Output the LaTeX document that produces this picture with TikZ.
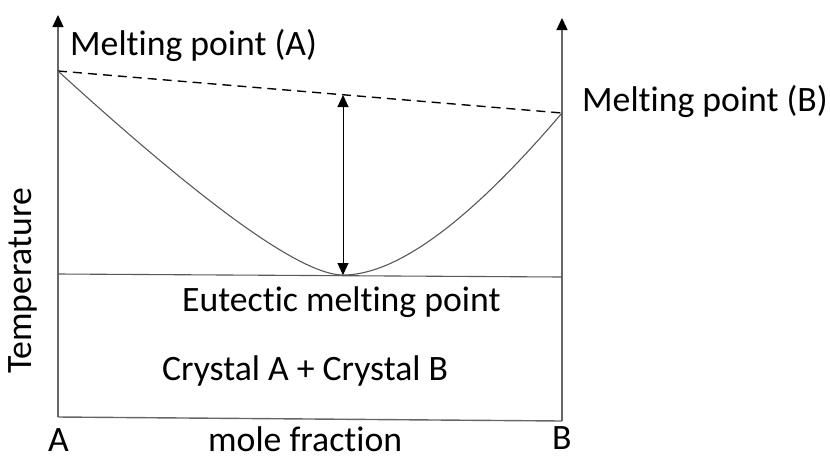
\documentclass[tikz,border=0pt]{standalone}
\usepackage{fontspec}
\setmainfont[Ligatures=NoCommon]{Carlito}
\usetikzlibrary{arrows.meta}
\begin{document}
\begin{tikzpicture}[x=1pt,y=-1pt,
  axisline/.style={draw=black!60,line width=1.4pt},
  curveline/.style={draw=black!65,line width=1.1pt},
  tip/.style={-{Triangle[length=12pt,width=11pt,color=black]}},
  lbl/.style={font=\fontsize{35.7}{40}\selectfont,inner sep=0pt,anchor=base west}]
\useasboundingbox (0,0) rectangle (830,459);
% key points
\coordinate (O) at (58,417);
\coordinate (BR) at (562,421);
\coordinate (Ltop) at (58,15);
\coordinate (Rtop) at (562,18);
\coordinate (MA) at (58,71);
\coordinate (MB) at (562,113);
\coordinate (EL) at (58,274);
\coordinate (ER) at (562,277);
\coordinate (Emin) at (343,275);
\coordinate (Dtop) at (343,95);
% axes
\draw[axisline,tip] (O) -- (Ltop);
\draw[axisline,tip] (BR) -- (Rtop);
\draw[axisline] (O) -- (BR);
% eutectic line
\draw[curveline] (EL) -- (ER);
% dashed line
\draw[line width=1.4pt,dash pattern=on 9pt off 6pt] (MA) -- (MB);
% liquidus curve
\draw[curveline] (MA) .. controls (207,207) and (302,275) .. (Emin)
  .. controls (397,275) and (470,221) .. (MB);
% double arrow
\draw[line width=1pt,{Triangle[length=12pt,width=11pt]}-{Triangle[length=12pt,width=11pt]}] (Dtop) -- (Emin);
% labels
\node[lbl] (ma) at (70,55) {Melting point (A)};
\node[lbl] (mb) at (582,111) {Melting point (B)};
\node[lbl] (eu) at (182,311) {Eutectic melting point};
\node[lbl] (cr) at (162,380) {Crystal A + Crystal B};
\node[lbl] (mf) at (208,451) {mole fraction};
\node[lbl] (a) at (48,451) {A};
\node[lbl] (b) at (552,449) {B};
\node[font=\fontsize{35.7}{40}\selectfont,inner sep=0pt,rotate=90] (t) at (23,281) {Temperature};
\end{tikzpicture}
\end{document}
